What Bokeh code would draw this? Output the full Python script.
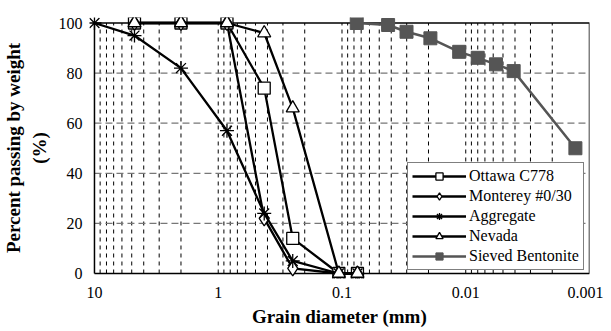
from bokeh.plotting import figure
from bokeh.models import Range1d, FixedTicker, CustomJSTickFormatter, Legend, LegendItem
from bokeh.embed import file_html
from bokeh.resources import INLINE

# sieve sizes (mm)
sieve = [4.75, 2.0, 0.85, 0.425, 0.25, 0.106, 0.075]
ottawa = [100, 100, 100, 74, 14, 0, 0]
monterey = [100, 100, 100, 22, 2, 0, 0]
nevada = [100, 100, 100, 96, 66, 0, 0]
agg_d = [10, 4.75, 2.0, 0.85, 0.425, 0.25, 0.106, 0.075]
aggregate = [100, 95, 82, 57, 24, 5, 0, 0]
bent_d = [0.076, 0.0424, 0.0301, 0.0193, 0.0113, 0.0080, 0.0057, 0.0041, 0.0013]
bentonite = [100, 99.2, 96.5, 93.9, 88.5, 86.1, 83.5, 80.8, 50]

x_major = [10, 1, 0.1, 0.01, 0.001]
y_major = [0, 20, 40, 60, 80, 100]

FONT = "Liberation Serif"

x_lo, x_hi = x_major[0], x_major[-1]
y_lo, y_hi = y_major[0], y_major[-1]

p = figure(frame_width=500, frame_height=261, x_axis_type="log",
           x_range=Range1d(10.97, 0.001), y_range=Range1d(-2.0, 102.2),
           output_backend="svg", toolbar_location=None,
           min_border_left=89, min_border_right=14, min_border_top=17, min_border_bottom=30)

minor = []
for dec in [1, 0.1, 0.01, 0.001]:
    for k in range(2, 10):
        minor.append(dec * k)

p.xaxis.ticker = FixedTicker(ticks=x_major, minor_ticks=[])
p.xaxis.formatter = CustomJSTickFormatter(code="return tick.toString();")
p.yaxis.ticker = FixedTicker(ticks=y_major, minor_ticks=[])

for ax in [p.xaxis[0], p.yaxis[0]]:
    ax.major_label_text_font = FONT
    ax.major_label_text_font_size = "16px"
    ax.major_label_text_color = "black"
    ax.axis_label_text_font = FONT
    ax.axis_label_text_font_style = "bold"
    ax.axis_label_text_font_size = "19px"
    ax.axis_label_text_color = "black"
    ax.axis_line_color = None
    ax.major_tick_line_color = None
    ax.minor_tick_line_color = None

p.xaxis.axis_label = "Grain diameter (mm)"
p.xaxis.major_label_standoff = 2
p.xaxis.axis_label_standoff = 5
p.yaxis.axis_label = "Percent passing by weight\n(%)"
p.yaxis.major_label_standoff = 1
p.yaxis.axis_label_standoff = 6

p.xgrid.grid_line_color = None
p.ygrid.grid_line_color = None
p.outline_line_color = None
p.background_fill_color = "white"
p.border_fill_color = "white"

# grid lines (drawn within the 0-100 / 10-0.001 box)
vx = minor + x_major[1:-1]
p.segment(x0=vx, y0=[y_lo] * len(vx), x1=vx, y1=[y_hi] * len(vx),
          line_color="black", line_width=1, line_dash="4 4")
hy = y_major[1:-1]
p.segment(x0=[x_lo] * len(hy), y0=hy, x1=[x_hi] * len(hy), y1=hy,
          line_color="#777777", line_width=1.2, line_dash="7 4")
# frame box
p.line([x_lo, x_hi, x_hi, x_lo, x_lo], [y_lo, y_lo, y_hi, y_hi, y_lo],
       line_color="black", line_width=1.5)

l1 = p.line(sieve, ottawa, line_color="black", line_width=2.3)
m1 = p.scatter(sieve, ottawa, marker="square", size=12, fill_color="white", line_color="black", line_width=1.3)
l2 = p.line(sieve, monterey, line_color="black", line_width=2.3)
m2 = p.scatter(sieve, monterey, marker="diamond", size=15, fill_color="white", line_color="black", line_width=1.3)
l3 = p.line(agg_d, aggregate, line_color="black", line_width=2.3)
m3 = p.scatter(agg_d, aggregate, marker="asterisk", size=14, line_color="black", line_width=1.3)
l4 = p.line(sieve, nevada, line_color="black", line_width=2.3)
m4 = p.scatter(sieve, nevada, marker="triangle", size=13, fill_color="white", line_color="black", line_width=1.3)
gray = "#555555"
l5 = p.line(bent_d, bentonite, line_color=gray, line_width=2.5)
m5 = p.scatter(bent_d, bentonite, marker="square", size=13, fill_color=gray, line_color=gray)

legend = Legend(items=[
    LegendItem(label="Ottawa C778", renderers=[l1, m1]),
    LegendItem(label="Monterey #0/30", renderers=[l2, m2]),
    LegendItem(label="Aggregate", renderers=[l3, m3]),
    LegendItem(label="Nevada", renderers=[l4, m4]),
    LegendItem(label="Sieved Bentonite", renderers=[l5, m5]),
], location=(318, 8))
legend.label_text_font = FONT
legend.label_text_font_size = "16px"
legend.label_text_color = "black"
legend.glyph_width = 54
legend.glyph_height = 18
legend.label_height = 18
legend.spacing = 2
legend.padding = 4
legend.margin = 0
legend.label_standoff = 3
legend.border_line_color = "black"
legend.border_line_width = 1
legend.background_fill_alpha = 1
p.add_layout(legend)

open("out.html", "w").write(file_html(p, INLINE))
